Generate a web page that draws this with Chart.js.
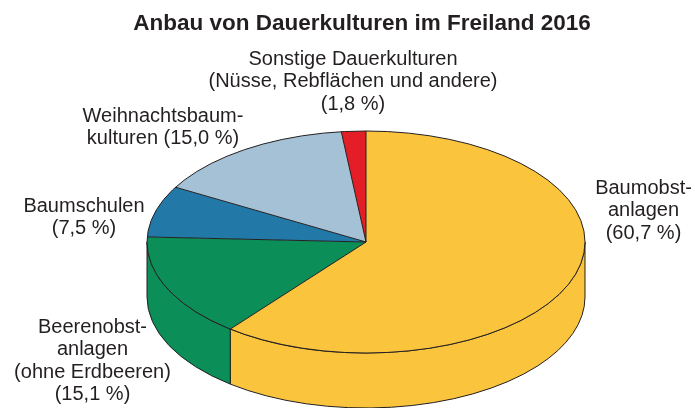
<!DOCTYPE html>
<html><head><meta charset="utf-8">
<script src="https://cdn.jsdelivr.net/npm/chart.js@4.4.1/dist/chart.umd.min.js"></script>
<style>html,body{margin:0;padding:0;background:#fff}canvas{display:block}</style>
</head><body>
<canvas id="c" width="695" height="408"></canvas>
<script>
// ---- data ----
const TITLE = "Anbau von Dauerkulturen im Freiland 2016";
const categories = [
  "Baumobstanlagen",
  "Beerenobstanlagen (ohne Erdbeeren)",
  "Baumschulen",
  "Weihnachtsbaumkulturen",
  "Sonstige Dauerkulturen (Nüsse, Rebflächen und andere)"
];
const shares = [60.7, 15.1, 7.5, 15.0, 1.8];
// label text lines; {p} is replaced by the formatted share
const labelLines = [
  ["Baumobst-", "anlagen", "{p}"],
  ["Beerenobst-", "anlagen", "(ohne Erdbeeren)", "{p}"],
  ["Baumschulen", "{p}"],
  ["Weihnachtsbaum-", "kulturen {p}"],
  ["Sonstige Dauerkulturen", "(Nüsse, Rebflächen und andere)", "{p}"]
];

// ---- styles / layout ----
const sliceColors = ["#FAC43D", "#0B8E57", "#2279A8", "#A4C1D6", "#E41E26"];
const OUTLINE = "#231F20";
const TEXT = "#231F20";
const CX = 366, CY = 242, RX = 219, RY = 111, DEPTH = 55;
const labelPos = [
  {x: 643.5, y: 194},
  {x: 92.5, y: 333},
  {x: 84, y: 212},
  {x: 163, y: 122},
  {x: 353, y: 65}
];
const LINE_H = 22.4;
const fmt = v => "(" + v.toFixed(1).replace(".", ",") + " %)";

const pie3d = {
  id: "pie3d",
  beforeDatasetsDraw(chart) {
    const ctx = chart.ctx;
    const meta = chart.getDatasetMeta(0);
    ctx.save();
    ctx.lineWidth = 1;
    ctx.strokeStyle = OUTLINE;
    ctx.lineJoin = "round";
    meta.data.forEach(arc => {
      const p = arc.getProps(["startAngle", "endAngle"], true);
      const a = Math.max(p.startAngle, 0), b = Math.min(p.endAngle, Math.PI);
      if (b <= a) return;
      ctx.beginPath();
      ctx.ellipse(CX, CY, RX, RY, 0, a, b, false);
      ctx.lineTo(CX + RX * Math.cos(b), CY + RY * Math.sin(b) + DEPTH);
      ctx.ellipse(CX, CY + DEPTH, RX, RY, 0, b, a, true);
      ctx.closePath();
      ctx.fillStyle = arc.options.backgroundColor;
      ctx.fill();
      ctx.stroke();
    });
    ctx.restore();
    const g = meta.data[0].getProps(["x", "y", "outerRadius"], true);
    ctx.save();
    ctx.translate(CX, CY);
    ctx.scale(RX / g.outerRadius, RY / g.outerRadius);
    ctx.translate(-g.x, -g.y);
  },
  afterDatasetsDraw(chart) {
    const ctx = chart.ctx;
    ctx.restore();
    const meta = chart.getDatasetMeta(0);
    ctx.save();
    ctx.lineWidth = 1;
    ctx.strokeStyle = OUTLINE;
    ctx.beginPath();
    meta.data.forEach(arc => {
      const p = arc.getProps(["startAngle"], true);
      ctx.moveTo(CX, CY);
      ctx.lineTo(CX + RX * Math.cos(p.startAngle), CY + RY * Math.sin(p.startAngle));
    });
    ctx.stroke();
    ctx.beginPath();
    ctx.ellipse(CX, CY, RX, RY, 0, 0, Math.PI * 2);
    ctx.stroke();
    // labels
    ctx.fillStyle = TEXT;
    ctx.textAlign = "center";
    ctx.textBaseline = "alphabetic";
    ctx.font = '20px "Liberation Sans", Arial, sans-serif';
    labelLines.forEach((lines, i) => {
      const pos = labelPos[i];
      lines.forEach((ln, k) => {
        ctx.fillText(ln.replace("{p}", fmt(shares[i])), pos.x, pos.y + k * LINE_H);
      });
    });
    ctx.font = 'bold 22.5px "Liberation Sans", Arial, sans-serif';
    ctx.fillText(TITLE, 362, 30);
    ctx.restore();
  }
};

new Chart(document.getElementById("c"), {
  type: "pie",
  data: {
    labels: categories,
    datasets: [{
      data: shares,
      backgroundColor: sliceColors,
      borderWidth: 0,
      clip: false
    }]
  },
  options: {
    responsive: false,
    devicePixelRatio: 1,
    animation: false,
    events: [],
    rotation: 0,
    layout: {padding: 0},
    plugins: {
      legend: {display: false},
      tooltip: {enabled: false},
      title: {display: false}
    }
  },
  plugins: [pie3d]
});
</script>
</body></html>
